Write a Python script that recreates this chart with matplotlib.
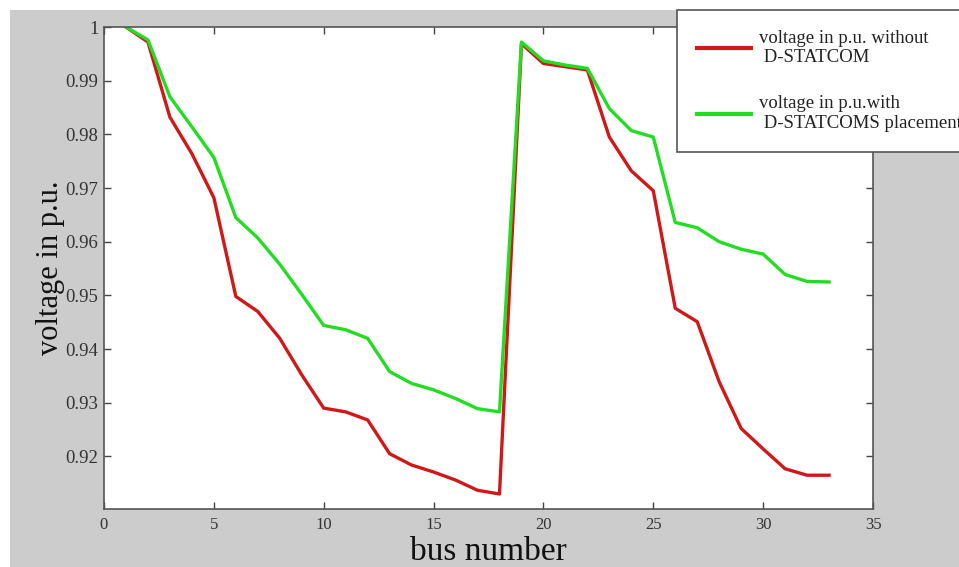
import matplotlib
matplotlib.use("Agg")
import matplotlib.pyplot as plt
from matplotlib.patches import Rectangle
import numpy as np

bus = list(range(1, 34))
v_without = [1.0000, 0.9972, 0.9832, 0.9764, 0.9682, 0.9498, 0.9470, 0.9420, 0.9352, 0.9290,
             0.9283, 0.9268, 0.9205, 0.9184, 0.9171, 0.9156, 0.9137, 0.9130, 0.9969, 0.9932,
             0.9926, 0.9920, 0.9795, 0.9732, 0.9695, 0.9476, 0.9451, 0.9339, 0.9252, 0.9214,
             0.9177, 0.9165, 0.9165]
v_with = [1.0000, 0.9976, 0.9870, 0.9814, 0.9757, 0.9645, 0.9607, 0.9558, 0.9502, 0.9444,
          0.9436, 0.9420, 0.9358, 0.9336, 0.9324, 0.9308, 0.9289, 0.9283, 0.9972, 0.9937,
          0.9929, 0.9923, 0.9848, 0.9807, 0.9795, 0.9636, 0.9626, 0.9600, 0.9586, 0.9577,
          0.9539, 0.9526, 0.9525]
xticks = [0, 5, 10, 15, 20, 25, 30, 35]
yticks = [0.92, 0.93, 0.94, 0.95, 0.96, 0.97, 0.98, 0.99, 1.0]
ytick_labels = ["0.92", "0.93", "0.94", "0.95", "0.96", "0.97", "0.98", "0.99", "1"]
labels = ["voltage in p.u. without\n D-STATCOM", "voltage in p.u.with\n D-STATCOMS placement"]

W, H = 959, 567
fig = plt.figure(figsize=(W / 100, H / 100), dpi=100, facecolor="white")
fig.patches.append(Rectangle((10 / W, 0), 1, 1 - 10 / H, transform=fig.transFigure,
                             facecolor="#cccccc", edgecolor="none", zorder=-10))

ax = fig.add_axes([104 / W, 1 - 508.5 / H, (873 - 104) / W, (508.5 - 27) / H])
ax.set_facecolor("white")
l1, = ax.plot(bus, v_without, color="#d01818", lw=2.4, solid_joinstyle="round")
l2, = ax.plot(bus, v_with, color="#22dd22", lw=2.4, solid_joinstyle="round")

ax.set_xlim(0, 35)
ax.set_ylim(0.9103, 1.0)
ax.set_xticks(xticks)
ax.set_xticklabels([str(t) for t in xticks])
ax.set_yticks(yticks)
ax.set_yticklabels(ytick_labels)

serif = ["Liberation Serif", "DejaVu Serif"]
for lab in ax.get_xticklabels():
    lab.set_family(serif); lab.set_fontsize(12); lab.set_color("#333333")
for lab in ax.get_yticklabels():
    lab.set_family(serif); lab.set_fontsize(13.5); lab.set_color("#333333")

ax.tick_params(axis="both", direction="in", length=5, width=1, color="#444444",
               top=True, right=True)
ax.tick_params(axis="y", pad=4)
ax.tick_params(axis="x", pad=6)
for s in ax.spines.values():
    s.set_color("#555555")
    s.set_linewidth(1.2)

ax.set_xlabel("bus number", family=serif, fontsize=24, color="#111111", labelpad=3)
ax.set_ylabel("voltage in p.u.", family=serif, fontsize=22, color="#111111", labelpad=0.5)

leg = fig.legend([l1, l2], labels, loc="upper left",
                 bbox_to_anchor=(677 / W, 1 - 10 / H),
                 prop={"family": serif, "size": 13.5},
                 frameon=True, fancybox=False, framealpha=1, handlelength=2.9,
                 handletextpad=0.4, labelspacing=1.55, borderpad=1.05, borderaxespad=0)
leg.get_frame().set_edgecolor("#555555")
leg.get_frame().set_linewidth(1.2)
for t in leg.get_texts():
    t.set_color("#222222")
for h in leg.legend_handles:
    h.set_linewidth(3)

fig.savefig("out.png", dpi=100, facecolor=fig.get_facecolor())
